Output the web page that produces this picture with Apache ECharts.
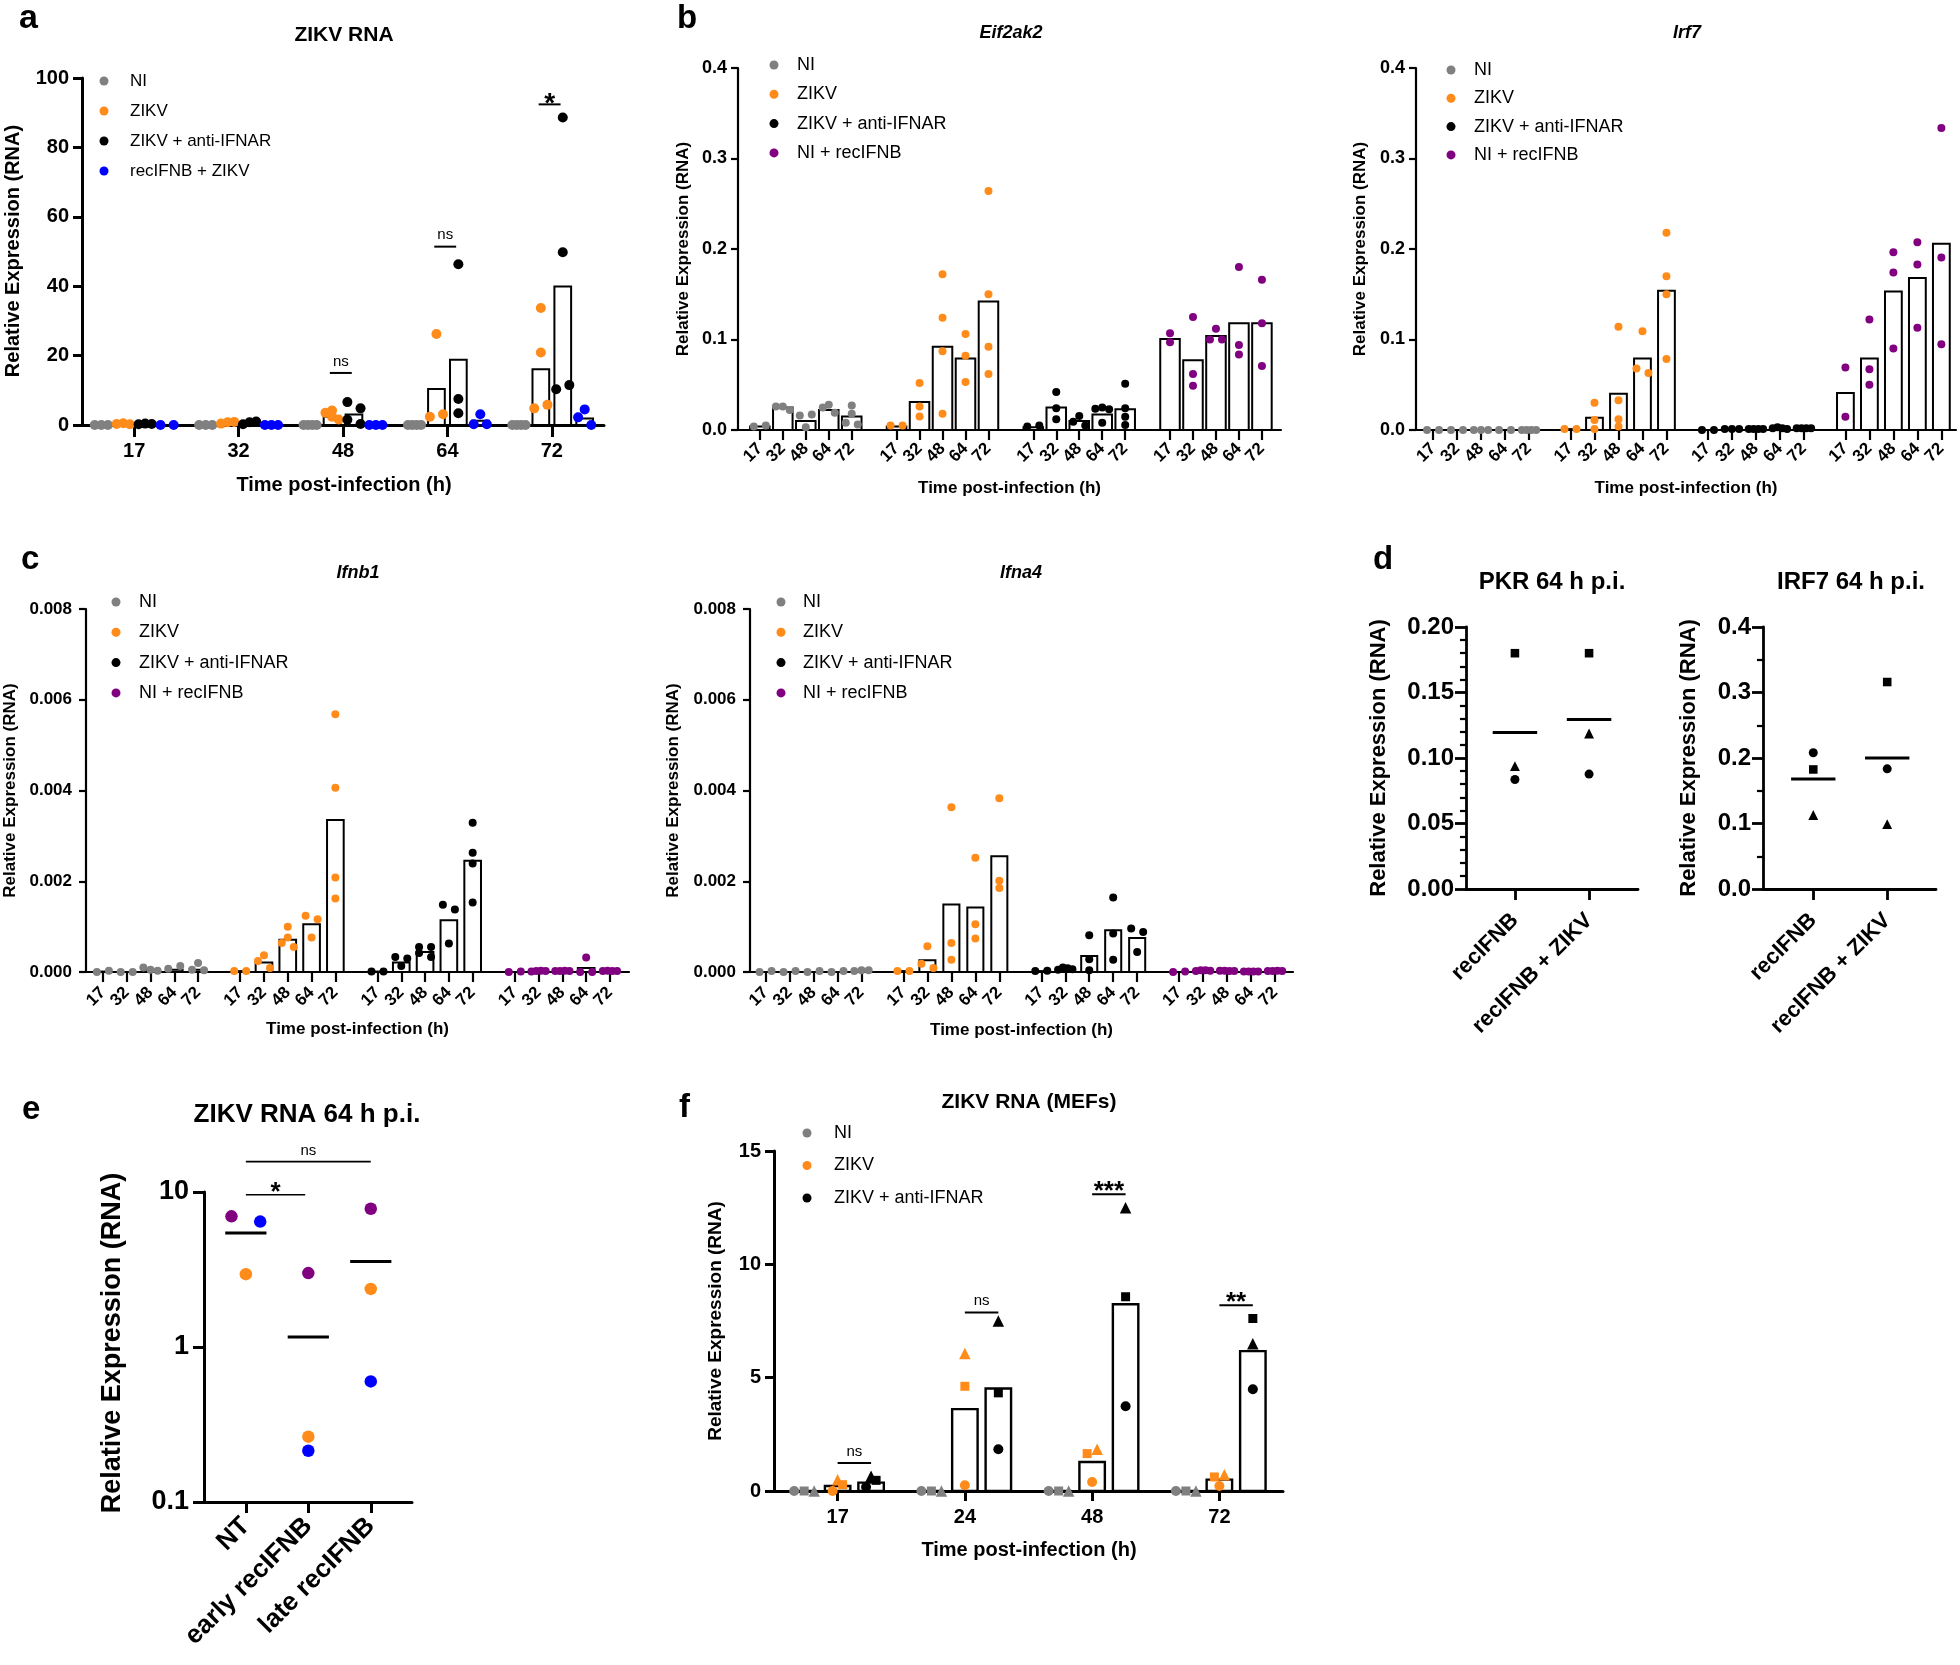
<!DOCTYPE html>
<html><head><meta charset="utf-8">
<script src="https://cdn.jsdelivr.net/npm/echarts@6/dist/echarts.min.js"></script>
<style>html,body{margin:0;padding:0;background:#fff}#c{width:1960px;height:1665px}</style>
</head><body><div id="c"></div>
<script>
// ---------------- DATA ----------------
// Panel a: ZIKV RNA
const aTimes = ['17','32','48','64','72'];
const aNI    = [[0,0,0],[0,0,0],[0,0,0,0],[0,0,0,0],[0,0,0,0]];
const aZIKV  = [[0.3,0.5,0.2],[0.4,0.8,0.9],[4.2,3.5,2.4,1.6],[26.2,2.4,3.1],[33.7,20.9,4.8,5.8]];
const aAnti  = [[0.2,0.4,0.3],[0.2,0.8,1.0],[6.6,4.8,1.5,0.3],[46.3,7.5,3.4],[88.6,49.8,10.3,11.5]];
const aRec   = [[0,0],[0,0,0],[0,0,0],[3.1,0.2,0.2],[4.5,2.2,0]];
const aBarNI   = [0,0,0,0,0];
const aBarZIKV = [0.3,0.7,2.4,10.4,16.1];
const aBarAnti = [0.3,0.7,3.0,18.8,39.9];
const aBarRec  = [0,0,0,1.2,1.9];
const aSigGroup = [2,3,4];
const aSigY     = [15,51.4,92.4];
const aSigText  = ['ns','ns','*'];

// Panel b/c time labels
const bTimes = ['17','32','48','64','72'];
// Eif2ak2
const eifNI    = [[0.004,0.005],[0.026,0.026,0.022],[0.016,0.017,0.003],[0.028,0.025,0.019],[0.027,0.018,0.008,0.006]];
const eifNIbar = [0.004,0.025,0.010,0.022,0.015];
const eifZIKV  = [[0.005,0.005],[0.052,0.026,0.015],[0.172,0.124,0.087,0.018],[0.106,0.082,0.053],[0.264,0.150,0.092,0.062]];
const eifZIKVbar = [0.004,0.031,0.092,0.079,0.142];
const eifAnti  = [[0.004,0.005],[0.042,0.024,0.012],[0.0155,0.009,0.005],[0.0235,0.025,0.023,0.008],[0.051,0.024,0.0147,0.0055]];
const eifAntiBar = [0.003,0.025,0.010,0.017,0.023];
const eifRec   = [[0.107,0.097],[0.125,0.062,0.049],[0.112,0.100,0.100],[0.180,0.094,0.0835],[0.166,0.118,0.0707]];
const eifRecBar = [0.1005,0.077,0.104,0.118,0.118];
// Irf7
const irfNI    = [[0,0],[0,0],[0,0,0],[0,0],[0,0,0,0]];
const irfNIbar = [0,0,0,0,0];
const irfZIKV  = [[0.001,0.001],[0.030,0.011,0.001],[0.114,0.033,0.012,0.004],[0.109,0.068,0.063],[0.218,0.170,0.150,0.0785]];
const irfZIKVbar = [0.001,0.0136,0.040,0.079,0.154];
const irfAnti  = [[0,0],[0.001,0.001,0.001],[0.001,0.001,0.001,0.001],[0.002,0.003,0.002,0.001],[0.002,0.002,0.002,0.002]];
const irfAntiBar = [0,0.001,0.001,0.002,0.002];
const irfRec   = [[0.069,0.0147],[0.122,0.067,0.050],[0.1965,0.174,0.090],[0.2075,0.183,0.113],[0.3336,0.1906,0.0947]];
const irfRecBar = [0.041,0.079,0.153,0.168,0.2057];
// Ifnb1
const nbNI    = [[0,0.00003],[0,0],[0.0001,0.00005,0.00003],[0.00007,0.00013],[0.0002,0.00005,0.00004]];
const nbNIbar = [0.00001,0,0.00005,0.00005,0.00005];
const nbZIKV  = [[0.00002,0.00002],[0.00037,0.00024,0.00009],[0.0010,0.00076,0.00064,0.00055],[0.00124,0.00116,0.00076],[0.00568,0.00406,0.00208,0.00162]];
const nbZIKVbar = [0.00002,0.00021,0.00071,0.00105,0.00335];
const nbAnti  = [[0.00001,0.00001],[0.00033,0.0003,0.00013],[0.00055,0.00055,0.00042,0.00033],[0.00148,0.00138,0.00063],[0.00329,0.00263,0.00239,0.00153]];
const nbAntiBar = [0.00001,0.00021,0.00044,0.00114,0.00245];
const nbRec   = [[0,0.00001],[0.00001,0.00002,0.00003,0.00002],[0.00002,0.00002,0.00003,0.00002],[0.00032,0,0],[0.00002,0.00003,0.00002,0.00002]];
const nbRecBar = [0,0.00002,0.00002,0.00009,0.00002];
// Ifna4
const naNI    = [[0,0.00002],[0,0.00002],[0,0.00002],[0,0.00002],[0.00002,0.00004,0.00004]];
const naNIbar = [0,0,0,0,0.00002];
const naZIKV  = [[0.00002,0.00002],[0.00057,0.00018,0.00009],[0.00363,0.00064,0.00027],[0.00252,0.00105,0.00074],[0.00383,0.00201,0.00185]];
const naZIKVbar = [0.00002,0.00026,0.00149,0.00142,0.00255];
const naAnti  = [[0.00002,0.00003],[0.00005,0.0001,0.00008,0.00006],[0.00081,0.00028,0.00004],[0.00164,0.00085,0.00027],[0.00096,0.00088,0.00044]];
const naAntiBar = [0.00002,0.00007,0.00035,0.00092,0.00075];
const naRec   = [[0,0.00001],[0.00002,0.00004,0.00004,0.00003],[0.00003,0.00003,0.00002,0.00002],[0.00001,0.00001,0.00001,0.00001],[0.00002,0.00002,0.00003,0.00002]];
const naRecBar = [0,0.00003,0.00002,0.00001,0.00002];

// Panel d (per category: recIFNB, recIFNB + ZIKV)
const dCats = ['recIFNB','recIFNB + ZIKV'];
const pkrCircle = [0.0836,0.0877];
const pkrSquare = [0.180,0.180];
const pkrTri    = [0.0938,0.1187];
const pkrMean   = [0.1194,0.1294];
const irf7Circle = [0.208,0.1835];
const irf7Square = [0.1825,0.316];
const irf7Tri    = [0.113,0.099];
const irf7Mean   = [0.168,0.200];

// Panel e (log scale)
const eCats   = ['NT','early recIFNB','late recIFNB'];
const ePurple = [6.97,3.0,7.8];
const eOrange = [2.95,0.264,2.37];
const eBlue   = [6.44,0.214,0.60];
const eMean   = [5.44,1.16,3.56];
const eSigFrom = [0,0];
const eSigTo   = [0.95,2.0];
const eSigY    = [9.6,15.7];
const eSigText = ['*','ns'];

// Panel f (per time: [circle, square, triangle])
const fTimes = ['17','24','48','72'];
const fNI   = [[0,0,0],[0,0,0],[0,0,0],[0,0,0]];
const fZIKV = [[0,0.28,0.5],[0.25,4.62,6.07],[0.4,1.65,1.84],[0.22,0.62,0.72]];
const fAnti = [[0.18,0.47,0.65],[1.84,4.33,7.5],[3.74,8.57,12.5],[4.49,7.61,6.5]];
const fNIbar   = [0,0,0,0];
const fZIKVbar = [0.22,3.61,1.28,0.5];
const fAntiBar = [0.37,4.52,8.24,6.17];
const fSigGroup = [0,1,2,3];
const fSigY     = [1.24,7.88,13.09,8.2];
const fSigText  = ['ns','ns','***','**'];

// ---------------- STYLE ----------------
const FONT = '"Liberation Sans", Arial, Helvetica, sans-serif';
const COL = {NI:'#808080', ZIKV:'#ff8c1a', 'ZIKV + anti-IFNAR':'#000000', 'recIFNB + ZIKV':'#0000ff', 'NI + recIFNB':'#800080'};
const SHAPES = ['circle','rect','triangle'];

const opt = {animation:false, backgroundColor:'#fff', grid:[], xAxis:[], yAxis:[], series:[], legend:[], graphic:[]};

function txt(x,y,text,size,opts){
  opts = opts||{};
  opt.graphic.push({type:'text', x:x, y:y, rotation:opts.rot||0, silent:true,
    style:{text:text, fill:'#000', font:(opts.italic?'italic ':'')+(opts.weight||'bold')+' '+size+'px '+FONT,
      align:opts.align||'center', verticalAlign:opts.va||'middle'}});
}

function fmtLookup(pos, labels){
  return function(v){ let best=-1, bd=1e9;
    for(let i=0;i<pos.length;i++){ const d=Math.abs(pos[i]-v); if(d<bd){bd=d;best=i;} }
    return bd<0.05 ? labels[best] : ''; };
}

function panel(p){
  const gi = opt.grid.length;
  opt.grid.push({left:p.left, top:p.top, width:p.width, height:p.height});
  // empty end labels keep the real first/last labels from being dropped
  const labelPos = [p.xmin].concat(p.tickPos, [p.xmax]);
  const xa = {type:'value', gridIndex:gi, min:p.xmin, max:p.xmax,
    axisLine:{show:true, onZero:false, lineStyle:{color:'#000', width:p.lw}},
    splitLine:{show:false},
    axisTick:{show:true, customValues:p.tickPos, length:p.xTickLen, lineStyle:{color:'#000', width:p.lw}},
    axisLabel:{customValues:labelPos, formatter:fmtLookup(p.tickPos,p.tickLabels), rotate:p.rot||0,
      hideOverlap:false,
      margin:p.xMargin, color:'#000', fontWeight:'bold', fontSize:p.xFont, fontFamily:FONT}};
  const ya = {type:p.log?'log':'value', gridIndex:gi, min:p.ymin, max:p.ymax,
    axisLine:{show:true, onZero:false, lineStyle:{color:'#000', width:p.lw}},
    splitLine:{show:false},
    axisTick:{show:true, length:p.yTickLen, lineStyle:{color:'#000', width:p.lw}},
    axisLabel:{margin:p.yMargin, color:'#000', fontWeight:'bold', fontSize:p.yFont, fontFamily:FONT, formatter:p.yFmt,
      showMinLabel:true, showMaxLabel:true}};
  if(p.log){ ya.logBase = 10; } else { ya.interval = p.interval; }
  if(p.minor){ ya.minorTick = {show:true, splitNumber:p.minor, length:p.yTickLen*0.55, lineStyle:{color:'#000', width:p.lw*0.8}}; }
  opt.xAxis.push(xa); opt.yAxis.push(ya);
  const xPx = p.width/(p.xmax-p.xmin);
  const yPx = p.log ? (v=>Math.log10(Math.max(v,1e-9)/p.ymin)/Math.log10(p.ymax/p.ymin)*p.height)
                    : (v=>(v-p.ymin)/(p.ymax-p.ymin)*p.height);
  return {gi:gi, xPx:xPx, yPx:yPx, p:p};
}

function swarm(vals, yPx, dot, maxSpread, factor){
  const idx = vals.map((v,i)=>i).sort((a,b)=>vals[a]-vals[b]);
  const rows=[]; let cur=null;
  idx.forEach(i=>{ const py=yPx(vals[i]);
    if(cur && Math.abs(py-cur.p0) < dot*0.9){ cur.items.push(i); } else { cur={p0:py, items:[i]}; rows.push(cur); } });
  const off = vals.map(()=>0);
  rows.forEach(r=>{ const n=r.items.length; if(n<2) return;
    const sp = Math.min(dot*factor, maxSpread/(n-1));
    r.items.slice().sort((a,b)=>a-b).forEach((i,k)=>{ off[i]=(k-(n-1)/2)*sp; }); });
  return off;
}

function barSeries(ctx, data, w, lw){
  return {type:'custom', xAxisIndex:ctx.gi, yAxisIndex:ctx.gi, data:data, encode:{x:0,y:1}, silent:true, z:2,
    renderItem:function(params, api){
      const x=api.value(0), v=api.value(1);
      const p1=api.coord([x-w/2, v]), p2=api.coord([x+w/2, 0]);
      return {type:'rect', shape:{x:p1[0], y:p1[1], width:p2[0]-p1[0], height:p2[1]-p1[1]},
        style:{fill:'#fff', stroke:'#000', lineWidth:lw}};
    }};
}
function meanSeries(ctx, data, w, lw){
  return {type:'custom', xAxisIndex:ctx.gi, yAxisIndex:ctx.gi, data:data, encode:{x:0,y:1}, silent:true, z:2,
    renderItem:function(params, api){
      const x=api.value(0), v=api.value(1);
      const p1=api.coord([x-w/2, v]), p2=api.coord([x+w/2, v]);
      return {type:'line', shape:{x1:p1[0], y1:p1[1], x2:p2[0], y2:p2[1]}, style:{stroke:'#000', lineWidth:lw}};
    }};
}
function sigSeries(ctx, data, texts, lw, fonts){
  return {type:'custom', xAxisIndex:ctx.gi, yAxisIndex:ctx.gi, data:data, encode:{x:[0,1],y:2}, silent:true, z:4, clip:false,
    renderItem:function(params, api){
      const a=api.coord([api.value(0), api.value(2)]), b=api.coord([api.value(1), api.value(2)]);
      const t = texts[params.dataIndex];
      const star = t.indexOf('*')>=0;
      return {type:'group', children:[
        {type:'line', shape:{x1:a[0], y1:a[1], x2:b[0], y2:b[1]}, style:{stroke:'#000', lineWidth:lw}},
        {type:'text', x:(a[0]+b[0])/2, y:a[1]+(star?fonts.starDy:fonts.nsDy),
          style:{text:t, fill:'#000', align:'center', verticalAlign:'bottom',
            font:(star?'bold '+fonts.star:'normal '+fonts.ns)+'px '+FONT}}
      ]};
    }};
}

function scatterCols(ctx, cols, dot, spreadPx, factor){
  const byName = {};
  cols.forEach(c=>{
    const off = swarm(c.vals, ctx.yPx, dot, spreadPx, factor);
    c.vals.forEach((v,i)=>{
      const key=c.name;
      if(!byName[key]) byName[key]={color:c.color, data:[]};
      const item={value:[c.x+off[i]/ctx.xPx, v]};
      if(c.symbols){ item.symbol=c.symbols[i]; item.symbolSize = c.symbols[i]==='triangle'?dot*1.15:(c.symbols[i]==='rect'?dot*0.9:dot); }
      byName[key].data.push(item);
    });
  });
  Object.keys(byName).forEach(n=>{
    opt.series.push({type:'scatter', name:n, xAxisIndex:ctx.gi, yAxisIndex:ctx.gi, data:byName[n].data,
      symbol:'circle', symbolSize:dot, itemStyle:{color:byName[n].color, opacity:1}, z:3, silent:true});
  });
}
function scatterMulti(ctx, groups, dot, spreadPx, factor){
  const byName={};
  groups.forEach(g=>{
    const vals=g.pts.map(p=>p.v);
    const off=swarm(vals, ctx.yPx, dot, spreadPx, factor);
    g.pts.forEach((p,i)=>{
      if(!byName[p.name]) byName[p.name]={color:p.color, data:[]};
      const item={value:[g.x+off[i]/ctx.xPx, p.v]};
      if(p.symbol){ item.symbol=p.symbol; item.symbolSize = p.symbol==='triangle'?dot*1.1:(p.symbol==='rect'?dot*0.95:dot); }
      byName[p.name].data.push(item);
    });
  });
  Object.keys(byName).forEach(n=>{
    opt.series.push({type:'scatter', name:n, xAxisIndex:ctx.gi, yAxisIndex:ctx.gi, data:byName[n].data,
      symbol:'circle', symbolSize:dot, itemStyle:{color:byName[n].color, opacity:1}, z:3, silent:true});
  });
}

function legend(names, dotX, firstY, pitch, font, textOff){
  const iw=9, lh=20, pad=5;
  opt.legend.push({data:names.map(n=>({name:n, icon:'circle'})), orient:'vertical', left:dotX-iw/2-pad, top:firstY-lh/2-pad,
    padding:pad, itemWidth:iw, itemHeight:iw, itemGap:pitch-lh, selectedMode:false,
    textStyle:{fontSize:font, fontFamily:FONT, color:'#000', lineHeight:lh, padding:[0,0,0,textOff-iw/2-5]}});
}

// ---------------- PANEL A ----------------
(function(){
  const namesA=['NI','ZIKV','ZIKV + anti-IFNAR','recIFNB + ZIKV'];
  const groupsPos=aTimes.map((t,i)=>i);
  const ctx=panel({left:82, top:78, width:522, height:347, xmin:-0.5, xmax:4.5, tickPos:groupsPos, tickLabels:aTimes,
    xTickLen:12, xMargin:16, xFont:20, ymin:0, ymax:100, interval:20, yTickLen:9, yMargin:13, yFont:20, lw:3,
    yFmt:v=>String(v)});
  const sub=0.21, bw=0.16;
  const sets=[[aNI,aBarNI],[aZIKV,aBarZIKV],[aAnti,aBarAnti],[aRec,aBarRec]];
  const bars=[], cols=[];
  sets.forEach((s,k)=>{ aTimes.forEach((t,g)=>{ const x=g+(k-1.5)*sub;
    bars.push([x, s[1][g]]); cols.push({x:x, vals:s[0][g], name:namesA[k], color:COL[namesA[k]]}); }); });
  opt.series.push(barSeries(ctx, bars, bw, 2));
  scatterCols(ctx, cols, 10, sub*ctx.xPx*0.6, 1.5);
  opt.series.push(sigSeries(ctx, aSigGroup.map((g,i)=>[g-0.6*sub, g+0.4*sub, aSigY[i]]), aSigText, 2,
    {ns:15, star:28, nsDy:-4, starDy:14}));
  legend(namesA, 104, 81, 30, 17, 26);
  txt(19, 18.5, 'a', 34, {align:'left'});
  txt(344, 35, 'ZIKV RNA', 21);
  txt(13, 251, 'Relative Expression (RNA)', 20, {rot:Math.PI/2});
  txt(344, 485, 'Time post-infection (h)', 20);
})();

// ---------------- PANELS B / C ----------------
function slotPanel(cfg){
  const names=['NI','ZIKV','ZIKV + anti-IFNAR','NI + recIFNB'];
  const pos=[], labs=[];
  for(let s=0;s<4;s++) bTimes.forEach((t,i)=>{ pos.push(s*cfg.groupStep+i); labs.push(t); });
  const ctx=panel({left:cfg.left, top:cfg.top, width:cfg.width, height:cfg.height, xmin:cfg.xmin, xmax:cfg.xmax,
    tickPos:pos, tickLabels:labs, rot:45, xTickLen:10, xMargin:cfg.xMargin, xFont:17,
    ymin:0, ymax:cfg.ymax, interval:cfg.interval, yTickLen:7, yMargin:cfg.yMargin, yFont:cfg.yFont, lw:2.2,
    yFmt:v=>v.toFixed(cfg.dec)});
  const bars=[], cols=[];
  cfg.sets.forEach((s,k)=>{ bTimes.forEach((t,i)=>{ const x=k*cfg.groupStep+i;
    bars.push([x, s[1][i]]); cols.push({x:x, vals:s[0][i], name:names[k], color:COL[names[k]]}); }); });
  opt.series.push(barSeries(ctx, bars, cfg.bw, 2));
  scatterCols(ctx, cols, 8, ctx.xPx*0.6, 1.5);
  legend(names, cfg.legX, cfg.legY, cfg.legPitch, 18, cfg.legOff);
  txt(cfg.titleX, cfg.titleY, cfg.title, 18, {italic:true});
  txt(cfg.ynX, cfg.top+cfg.height/2, 'Relative Expression (RNA)', 17, {rot:Math.PI/2});
  txt(cfg.left+cfg.width/2, cfg.xnY, 'Time post-infection (h)', 17);
}
slotPanel({left:738, top:68, width:543, height:362, xmin:-0.95, xmax:22.68, groupStep:5.95, bw:0.85,
  ymax:0.4, interval:0.1, dec:1, yMargin:11, yFont:18, xMargin:16,
  sets:[[eifNI,eifNIbar],[eifZIKV,eifZIKVbar],[eifAnti,eifAntiBar],[eifRec,eifRecBar]],
  legX:774, legY:65, legPitch:29.3, legOff:23, title:'Eif2ak2', titleX:1011, titleY:33, ynX:683, xnY:488});
slotPanel({left:1416, top:68, width:540, height:362, xmin:-0.71, xmax:21.8, groupStep:5.73, bw:0.7,
  ymax:0.4, interval:0.1, dec:1, yMargin:11, yFont:18, xMargin:16,
  sets:[[irfNI,irfNIbar],[irfZIKV,irfZIKVbar],[irfAnti,irfAntiBar],[irfRec,irfRecBar]],
  legX:1451, legY:70, legPitch:28.3, legOff:23, title:'Irf7', titleX:1687, titleY:33, ynX:1360, xnY:488});
slotPanel({left:86, top:609, width:543, height:363, xmin:-0.71, xmax:22.11, groupStep:5.77, bw:0.7,
  ymax:0.008, interval:0.002, dec:3, yMargin:14, yFont:17, xMargin:18,
  sets:[[nbNI,nbNIbar],[nbZIKV,nbZIKVbar],[nbAnti,nbAntiBar],[nbRec,nbRecBar]],
  legX:116, legY:602, legPitch:30.3, legOff:23, title:'Ifnb1', titleX:358, titleY:573, ynX:10, xnY:1029});
slotPanel({left:750, top:609, width:543, height:363, xmin:-0.65, xmax:22.0, groupStep:5.75, bw:0.67,
  ymax:0.008, interval:0.002, dec:3, yMargin:14, yFont:17, xMargin:18,
  sets:[[naNI,naNIbar],[naZIKV,naZIKVbar],[naAnti,naAntiBar],[naRec,naRecBar]],
  legX:781, legY:602, legPitch:30.3, legOff:22, title:'Ifna4', titleX:1021, titleY:573, ynX:673, xnY:1030});
txt(677, 18.5, 'b', 33, {align:'left'});
txt(21, 559.5, 'c', 33, {align:'left'});

// ---------------- PANEL D ----------------
function dPanel(cfg){
  const ctx=panel({left:cfg.left, top:627, width:cfg.width, height:262, xmin:cfg.xmin, xmax:cfg.xmax,
    tickPos:[0,1], tickLabels:dCats, rot:45, xTickLen:11, xMargin:28, xFont:22,
    ymin:0, ymax:cfg.ymax, interval:cfg.interval, minor:cfg.minor, yTickLen:11, yMargin:12, yFont:24, lw:2.8,
    yFmt:v=>v.toFixed(cfg.dec)});
  const groups=dCats.map((c,i)=>({x:i, pts:[
    {v:cfg.circle[i], name:cfg.key, color:'#000', symbol:'circle'},
    {v:cfg.square[i], name:cfg.key, color:'#000', symbol:'rect'},
    {v:cfg.tri[i], name:cfg.key, color:'#000', symbol:'triangle'}]}));
  opt.series.push(meanSeries(ctx, cfg.mean.map((m,i)=>[i,m]), 0.6, 3));
  scatterMulti(ctx, groups, 9, ctx.xPx*0.6, 1.5);
  txt(cfg.titleX, 582, cfg.title, 24);
  txt(cfg.ynX, 758, 'Relative Expression (RNA)', 22, {rot:Math.PI/2});
}
dPanel({left:1466, width:172, xmin:-0.66, xmax:1.66, ymax:0.2, interval:0.05, minor:5, dec:2,
  circle:pkrCircle, square:pkrSquare, tri:pkrTri, mean:pkrMean, key:'PKR', title:'PKR 64 h p.i.', titleX:1552, ynX:1379});
dPanel({left:1763, width:173, xmin:-0.68, xmax:1.66, ymax:0.4, interval:0.1, minor:2, dec:1,
  circle:irf7Circle, square:irf7Square, tri:irf7Tri, mean:irf7Mean, key:'IRF7', title:'IRF7 64 h p.i.', titleX:1851, ynX:1689});
txt(1373, 559.5, 'd', 33, {align:'left'});

// ---------------- PANEL E ----------------
(function(){
  const ctx=panel({left:204, top:1192, width:208, height:310, xmin:-0.67, xmax:2.66,
    tickPos:[0,1,2], tickLabels:eCats, rot:45, xTickLen:11, xMargin:20, xFont:26,
    log:true, ymin:0.1, ymax:10, yTickLen:11, yMargin:15, yFont:27, lw:3,
    yFmt:v=>String(Number(v.toPrecision(6)))});
  const groups=eCats.map((c,i)=>({x:i, pts:[
    {v:ePurple[i], name:'rep1', color:'#800080'},
    {v:eOrange[i], name:'rep2', color:'#ff8c1a'},
    {v:eBlue[i], name:'rep3', color:'#0000ff'}]}));
  opt.series.push(meanSeries(ctx, eMean.map((m,i)=>[i,m]), 0.66, 3));
  scatterMulti(ctx, groups, 12.5, ctx.xPx*0.8, 2.3);
  opt.series.push(sigSeries(ctx, eSigFrom.map((f,i)=>[f, eSigTo[i], eSigY[i]]), eSigText, 1.6,
    {ns:15, star:26, nsDy:-3, starDy:11}));
  txt(22, 1109.5, 'e', 33, {align:'left'});
  txt(307, 1115, 'ZIKV RNA 64 h p.i.', 26);
  txt(113, 1343, 'Relative Expression (RNA)', 27, {rot:Math.PI/2});
})();

// ---------------- PANEL F ----------------
(function(){
  const namesF=['NI','ZIKV','ZIKV + anti-IFNAR'];
  const ctx=panel({left:774, top:1151, width:509, height:340, xmin:-0.5, xmax:3.5, tickPos:[0,1,2,3], tickLabels:fTimes,
    xTickLen:10, xMargin:16, xFont:20, ymin:0, ymax:15, interval:5, yTickLen:9, yMargin:13, yFont:20, lw:3,
    yFmt:v=>String(v)});
  const sub=0.263, bw=0.2;
  const sets=[[fNI,fNIbar],[fZIKV,fZIKVbar],[fAnti,fAntiBar]];
  const bars=[], cols=[];
  sets.forEach((s,k)=>{ fTimes.forEach((t,g)=>{ const x=g+(k-1)*sub;
    bars.push([x, s[1][g]]); cols.push({x:x, vals:s[0][g], name:namesF[k], color:COL[namesF[k]], symbols:SHAPES}); }); });
  opt.series.push(barSeries(ctx, bars, bw, 2.4));
  scatterCols(ctx, cols, 10, sub*ctx.xPx*0.8, 1.0);
  opt.series.push(sigSeries(ctx, fSigGroup.map((g,i)=>[g, g+sub, fSigY[i]]), fSigText, 2,
    {ns:15, star:26, nsDy:-4, starDy:11}));
  legend(namesF, 807, 1133, 32.5, 18, 27);
  txt(679, 1107.5, 'f', 33, {align:'left'});
  txt(1029, 1102, 'ZIKV RNA (MEFs)', 21);
  txt(716, 1321, 'Relative Expression (RNA)', 19, {rot:Math.PI/2});
  txt(1029, 1550, 'Time post-infection (h)', 20);
})();

const chart = echarts.init(document.getElementById('c'), null, {renderer:'canvas'});
chart.setOption(opt);
</script>
</body></html>
